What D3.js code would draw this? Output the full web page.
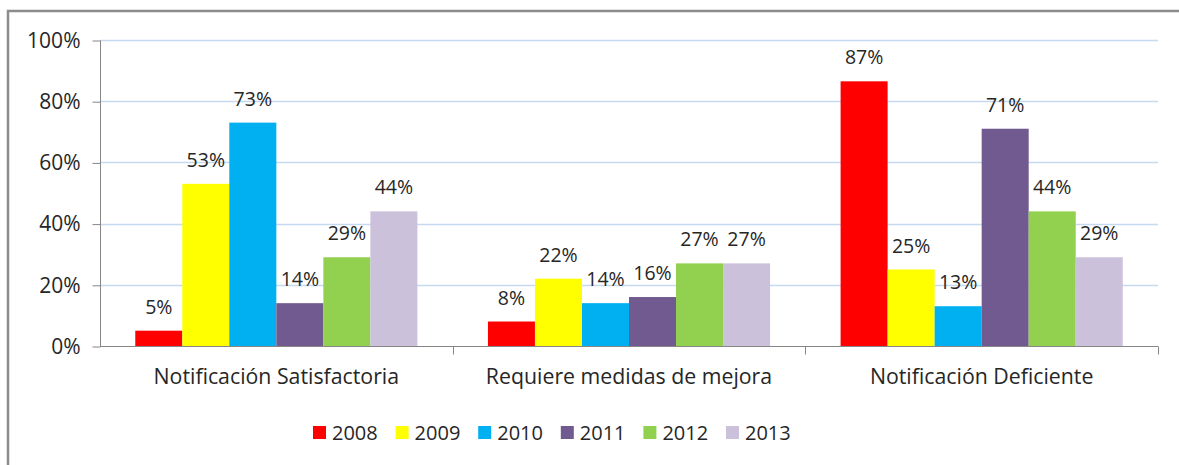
<!DOCTYPE html>
<html>
<head>
<meta charset="utf-8">
<script src="https://cdn.jsdelivr.net/npm/d3@7"></script>
<style>
  body { margin: 0; background: #fff; }
  svg text { font-family: "Open Sans", sans-serif; fill: #262626; }
</style>
</head>
<body>
<div id="chart"></div>
<script>
// data
var categories = ["Notificación Satisfactoria", "Requiere medidas de mejora", "Notificación Deficiente"]
var years = ["2008", "2009", "2010", "2011", "2012", "2013"]
var colors = ["#ff0000", "#ffff00", "#00b0f0", "#705a8f", "#92d050", "#ccc1da"]
var values2008 = [5, 8, 86.5]
var values2009 = [53, 22, 25]
var values2010 = [73, 14, 13]
var values2011 = [14, 16, 71]
var values2012 = [29, 27, 44]
var values2013 = [44, 27, 29]
var yTicks = [0, 20, 40, 60, 80, 100]

var series = [values2008, values2009, values2010, values2011, values2012, values2013]

var w = 1179
var h = 465

var svg = d3.select("#chart")
    .append("svg")
    .attr("width", w)
    .attr("height", h)

// chart frame (right and bottom cut off in the original)
svg.append("path")
    .attr("d", "M8," + h + " V11 H" + w)
    .attr("fill", "none")
    .attr("stroke", "#8c8c8c")
    .attr("stroke-width", 2.5)

var plotLeft = 100, plotRight = 1158, plotTop = 40, plotBottom = 346

var x0 = d3.scaleBand()
    .domain(categories)
    .range([plotLeft, plotRight])
    .padding(0)

// 6 bars per group, 150% gap => 0.75 bar each side
var x1 = d3.scaleBand()
    .domain(years)
    .range([0, x0.bandwidth()])
    .paddingOuter(0.75)
    .paddingInner(0)

var y = d3.scaleLinear()
    .domain([0, 100])
    .range([plotBottom, plotTop])

// gridlines
svg.selectAll(".grid")
    .data(yTicks.slice(1))
    .enter()
    .append("line")
    .attr("class", "grid")
    .attr("x1", plotLeft)
    .attr("x2", plotRight)
    .attr("y1", function(d){ return Math.round(y(d)) + 0.5 })
    .attr("y2", function(d){ return Math.round(y(d)) + 0.5 })
    .attr("stroke", "#c6d9f1")
    .attr("stroke-width", 1.5)

// y axis
var yAxis = d3.axisLeft(y)
    .tickValues(yTicks)
    .tickFormat(function(d){ return d + "%" })
    .tickSize(8)
    .tickPadding(12)

var gy = svg.append("g")
    .attr("transform", "translate(" + (plotLeft + 0.5) + ",0.5)")
    .call(yAxis)
gy.select(".domain").attr("stroke", "#868686").attr("d", "M0," + plotTop + "V" + plotBottom)
gy.selectAll(".tick line").attr("stroke", "#868686")
gy.selectAll(".tick text")
    .style("font-size", "21px")
    .attr("fill", "#262626")
    .style("font-family", "Open Sans, sans-serif")

// bars
var groups = svg.selectAll(".cat")
    .data(categories)
    .enter()
    .append("g")
    .attr("class", "cat")
    .attr("transform", function(d){ return "translate(" + x0(d) + ",0)" })

groups.selectAll("rect")
    .data(function(d, i){
        return years.map(function(yr, j){ return {year: yr, value: series[j][i], color: colors[j]} })
    })
    .enter()
    .append("rect")
    .attr("x", function(d){ return x1(d.year) })
    .attr("y", function(d){ return y(d.value) })
    .attr("width", x1.bandwidth())
    .attr("height", function(d){ return plotBottom - y(d.value) })
    .attr("fill", function(d){ return d.color })

groups.selectAll(".lbl")
    .data(function(d, i){
        return years.map(function(yr, j){ return {year: yr, value: series[j][i]} })
    })
    .enter()
    .append("text")
    .attr("class", "lbl")
    .attr("x", function(d){ return x1(d.year) + x1.bandwidth() / 2 })
    .attr("y", function(d){ return y(d.value) - 17 })
    .attr("text-anchor", "middle")
    .style("font-size", "19.5px")
    .text(function(d){ return Math.round(d.value) + "%" })

// x axis
var xAxis = d3.axisBottom(x0)
    .tickSize(0)
    .tickPadding(22)

var gx = svg.append("g")
    .attr("transform", "translate(0," + (plotBottom + 0.5) + ")")
    .call(xAxis)
gx.select(".domain").attr("stroke", "#868686").attr("d", "M" + plotLeft + ",0H" + plotRight)
gx.selectAll(".tick text")
    .style("font-size", "21.3px")
    .attr("fill", "#262626")
    .style("font-family", "Open Sans, sans-serif")

// category separators
gx.selectAll(".sep")
    .data(categories)
    .enter()
    .append("line")
    .attr("class", "sep")
    .attr("x1", function(d){ return Math.round(x0(d) + x0.bandwidth()) + 0.5 })
    .attr("x2", function(d){ return Math.round(x0(d) + x0.bandwidth()) + 0.5 })
    .attr("y1", 0)
    .attr("y2", 8)
    .attr("stroke", "#868686")

// legend
var legend = svg.append("g")
    .attr("transform", "translate(313,433)")

var item = legend.selectAll(".item")
    .data(years)
    .enter()
    .append("g")
    .attr("class", "item")
    .attr("transform", function(d, i){ return "translate(" + (i * 82.6) + ",0)" })

item.append("rect")
    .attr("x", 0)
    .attr("y", -7)
    .attr("width", 13)
    .attr("height", 13)
    .attr("fill", function(d, i){ return colors[i] })

item.append("text")
    .attr("x", 19)
    .attr("y", 0)
    .attr("dy", "0.36em")
    .style("font-size", "20px")
    .text(function(d){ return d })
</script>
</body>
</html>
